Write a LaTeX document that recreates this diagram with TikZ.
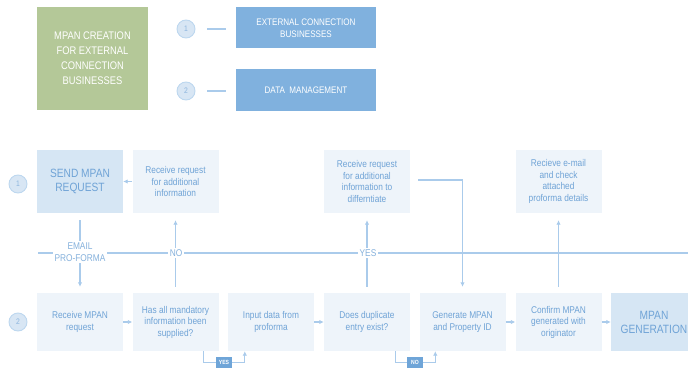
\documentclass[tikz,border=0pt]{standalone}
\usepackage{fontspec}
\setmainfont{Liberation Sans}[FakeStretch=0.85]
\usetikzlibrary{arrows.meta}
\definecolor{paleblue}{HTML}{EEF4FA}
\definecolor{midblue}{HTML}{D6E6F4}
\definecolor{deepblue}{HTML}{80B1DE}
\definecolor{tagblue}{HTML}{6FA5D8}
\definecolor{inkblue}{HTML}{6FA3D6}
\definecolor{lineblue}{HTML}{AACBEB}
\definecolor{ringfill}{HTML}{D8E6F4}
\definecolor{ringline}{HTML}{BDD7EF}
\definecolor{sage}{HTML}{B4C898}
\tikzset{
    stepbox/.style={fill=paleblue, text=inkblue, minimum width=86pt, align=center,
        font=\fontsize{9.8}{11.5}\selectfont},
    endbox/.style={stepbox, fill=midblue, font=\fontsize{12}{14}\selectfont},
    lanebox/.style={fill=deepblue, text=white, minimum width=140pt, minimum height=41pt,
        align=center, font=\fontsize{9.5}{12}\selectfont},
    lanemark/.style={circle, fill=ringfill, draw=ringline, line width=0.9pt, text=inkblue!80,
        minimum size=18pt, inner sep=0pt, font=\fontsize{8}{8}\selectfont},
    flow/.style={draw=lineblue, line width=1.1pt},
    tip/.style={flow, -{Latex[length=4.5pt,width=4.5pt]}},
    cut/.style={fill=white, text=inkblue!85, inner sep=2pt, align=center,
        font=\fontsize{9.8}{11.5}\selectfont},
    tag/.style={fill=tagblue, text=white, inner sep=1pt, minimum width=16pt,
        minimum height=11pt, font=\fontsize{6}{6}\selectfont\bfseries}
}
\begin{document}
\begin{tikzpicture}[x=1pt,y=-1pt]
    \useasboundingbox (0,0) rectangle (688,369);
    % legend
    \node[fill=sage, text=white, minimum width=111pt, minimum height=103pt, align=center,
        font=\fontsize{11}{15}\selectfont] (title) at (92.5,58.5)
        {MPAN CREATION\\FOR EXTERNAL\\CONNECTION\\BUSINESSES};
    \node[lanemark] (k1) at (186,29) {1};
    \node[lanemark] (k2) at (186,91) {2};
    \node[lanebox] (ext) at (306,28) {EXTERNAL CONNECTION\\BUSINESSES};
    \node[lanebox] (dm) at (306,90) {DATA\ \ MANAGEMENT};
    \draw[flow] ([xshift=12pt]k1.east) -- ([xshift=-10pt]ext.west |- k1.east);
    \draw[flow] ([xshift=12pt]k2.east) -- ([xshift=-10pt]dm.west |- k2.east);
    % lanes
    \node[lanemark] (l1) at (18,184) {1};
    \node[lanemark] (l2) at (18,322) {2};
    \coordinate (split0) at (38,253);
    \coordinate (split1) at (688,253);
    \draw[flow] (split0) -- (split1);
    % row 1
    \node[endbox, minimum height=63pt] (send) at (80,181.5) {SEND MPAN\\REQUEST};
    \node[stepbox, minimum height=63pt] (more) at (175.5,181.5)
        {Receive request\\for additional\\information};
    \node[stepbox, minimum height=63pt] (diff) at (367,181.5)
        {Receive request\\for additional\\information to\\differntiate};
    \node[stepbox, minimum height=63pt] (mail) at (558.5,181.5)
        {Recieve e-mail\\and check\\attached\\proforma details};
    % row 2
    \node[stepbox, minimum height=58pt] (recv) at (80,322) {Receive MPAN\\request};
    \node[stepbox, minimum height=58pt] (chk) at (175.5,322)
        {Has all mandatory\\information been\\supplied?};
    \node[stepbox, minimum height=58pt] (inp) at (271,322) {Input data from\\proforma};
    \node[stepbox, minimum height=58pt] (dup) at (367,322) {Does duplicate\\entry exist?};
    \node[stepbox, minimum height=58pt] (gen) at (462.5,322) {Generate MPAN\\and Property ID};
    \node[stepbox, minimum height=58pt] (conf) at (558.5,322)
        {Confirm MPAN\\generated with\\originator};
    \node[endbox, minimum height=58pt] (done) at (654,322) {MPAN\\GENERATION};
    % connectors
    \draw[tip] (more.west) -- (send.east);
    \draw[tip, shorten <=7pt, shorten >=6pt] (send.south) -- (recv.north);
    \draw[tip, shorten <=6pt, shorten >=7pt] (chk.north) -- (more.south);
    \draw[tip, shorten <=6pt, shorten >=7pt] (dup.north) -- (diff.south);
    \draw[tip, shorten <=6pt, shorten >=7pt] (conf.north) -- (mail.south);
    \draw[tip, shorten <=8pt, shorten >=6pt] ([yshift=1.5pt]diff.east) -| (gen.north);
    \draw[tip] (recv.east) -- (chk.west);
    \draw[tip] (inp.east) -- (dup.west);
    \draw[tip] (gen.east) -- (conf.west);
    \draw[tip] (conf.east) -- (done.west);
    \node[cut] (email) at (80,252) {EMAIL\\PRO-FORMA};
    \node[cut] (no) at (176,253) {NO};
    \node[cut] (yes) at (368,253) {YES};
    % yes / no tags
    \draw[tip] ([xshift=-15pt]chk.south east) -- ++(0,11) -| ([xshift=17pt]inp.south west);
    \node[tag] (yestag) at (224,362) {YES};
    \draw[tip] ([xshift=-15pt]dup.south east) -- ++(0,11) -| ([xshift=16pt]gen.south west);
    \node[tag] (notag) at (415,362) {NO};
\end{tikzpicture}
\end{document}
